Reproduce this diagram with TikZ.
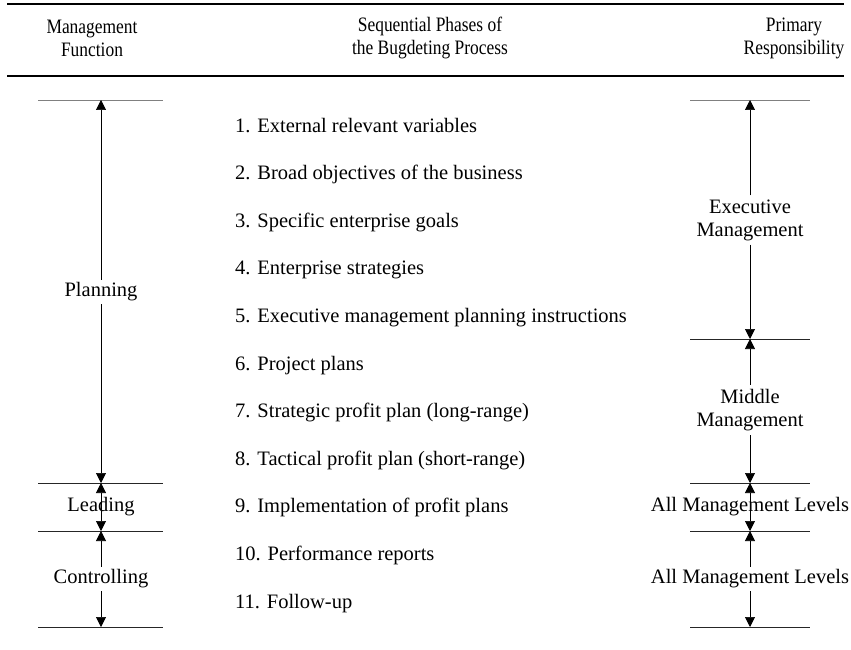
\documentclass[tikz,border=0pt]{standalone}
\usepackage{fontspec}
\setmainfont{Liberation Serif}
\usepackage{graphicx}
\usetikzlibrary{arrows.meta}
\newcommand\hdr[1]{\scalebox{0.85}[1]{#1}}
\begin{document}
\begin{tikzpicture}[x=1pt,y=-1pt,
  every node/.style={font=\fontsize{20.5}{23}\selectfont, inner sep=0pt},
  rule/.style={line width=1.2pt},
  tick/.style={line width=0.8pt, black!85},
  toptick/.style={line width=0.9pt, black!50},
  arr/.style={line width=0.7pt, -{Triangle[width=10pt,length=10pt]}},
  darr/.style={line width=0.7pt, {Triangle[width=10pt,length=10pt]}-{Triangle[width=10pt,length=10pt]}},
  lbl/.style={align=center, inner sep=3pt, text height=14pt, text depth=4.5pt},
  lbltwo/.style={align=center, inner xsep=3pt, inner ysep=4pt},
  phase/.style={anchor=base west}]
\useasboundingbox (0,0) rectangle (851,650);

% header rules
\coordinate (r1a) at (7,4);  \coordinate (r1b) at (844,4);
\coordinate (r2a) at (7,76); \coordinate (r2b) at (844,76);
\draw[rule] (r1a) -- (r1b);
\draw[rule] (r2a) -- (r2b);

% column headings
\node[align=center] (h1) at (92,38) {\hdr{Management}\\\hdr{Function}};
\node[align=center] (h2) at (430,38) {\hdr{Sequential Phases of}\\\hdr{the Bugdeting Process}};
\node[align=center] (h3) at (794,38) {\hdr{Primary}\\\hdr{Responsibility}};

% phases
\foreach \i/\t in {1/{1. External relevant variables},
                   2/{2. Broad objectives of the business},
                   3/{3. Specific enterprise goals},
                   4/{4. Enterprise strategies},
                   5/{5. Executive management planning instructions},
                   6/{6. Project plans},
                   7/{7. Strategic profit plan (long-range)},
                   8/{8. Tactical profit plan (short-range)},
                   9/{9. Implementation of profit plans},
                   10/{10. Performance reports},
                   11/{11. Follow-up}}
  \node[phase] (p\i) at (235,{125+47.6*(\i-1)+7}) {\t};

% left column: management function
\coordinate (La) at (101,100); \coordinate (Lb) at (101,483);
\coordinate (Lc) at (101,531); \coordinate (Ld) at (101,627);
\draw[toptick] (38,100) -- (163,100);
\draw[tick] (38,483) -- (163,483);
\draw[tick] (38,531) -- (163,531);
\draw[tick] (38,627) -- (163,627);

\node[lbl] (plan) at (101,292) {Planning};
\draw[arr] (plan) -- (La);
\draw[arr] (plan) -- (Lb);

\draw[darr] (Lb) -- (Lc);
\node[lbl] (lead) at (101,507) {Leading};

\node[lbl] (ctrl) at (101,579) {Controlling};
\draw[arr] (ctrl) -- (Lc);
\draw[arr] (ctrl) -- (Ld);

% right column: primary responsibility
\coordinate (Ra) at (750,100); \coordinate (Rb) at (750,339);
\coordinate (Rc) at (750,483); \coordinate (Rd) at (750,531);
\coordinate (Re) at (750,627);
\draw[toptick] (690,100) -- (810,100);
\draw[tick] (690,339) -- (810,339);
\draw[tick] (690,483) -- (810,483);
\draw[tick] (690,531) -- (810,531);
\draw[tick] (690,627) -- (810,627);

\node[lbltwo] (exec) at (750,220) {Executive\\Management};
\draw[arr] (exec) -- (Ra);
\draw[arr] (exec) -- (Rb);

\node[lbltwo] (mid) at (750,410) {Middle\\Management};
\draw[arr] (mid) -- (Rb);
\draw[arr] (mid) -- (Rc);

\draw[darr] (Rc) -- (Rd);
\node[lbl] (all1) at (750,507) {All Management Levels};

\node[lbl] (all2) at (750,579) {All Management Levels};
\draw[arr] (all2) -- (Rd);
\draw[arr] (all2) -- (Re);
\end{tikzpicture}
\end{document}
